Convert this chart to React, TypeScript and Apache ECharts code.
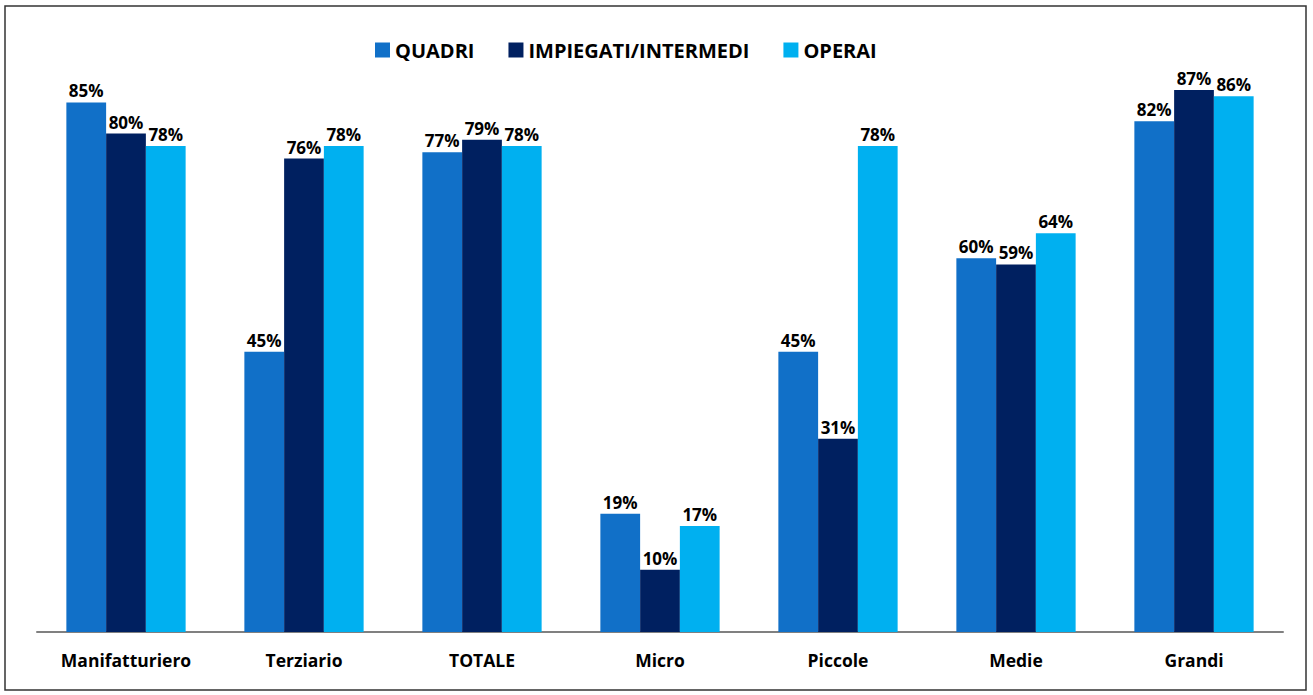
import React, { useEffect, useRef } from "react";
import * as echarts from "echarts";

const categories = ["Manifatturiero", "Terziario", "TOTALE", "Micro", "Piccole", "Medie", "Grandi"];
const seriesNames = ["QUADRI", "IMPIEGATI/INTERMEDI", "OPERAI"];
const quadri = [85, 45, 77, 19, 45, 60, 82];
const impiegati = [80, 76, 79, 10, 31, 59, 87];
const operai = [78, 78, 78, 17, 78, 64, 86];
const colors = ["#1170C8", "#002060", "#00B0F0"];

export default function App() {
  const ref = useRef<HTMLDivElement>(null);
  useEffect(() => {
    document.body.style.margin = "0";
    const chart = echarts.init(ref.current!, null, { renderer: "svg" });
    const font = "'Open Sans', 'Noto Sans', sans-serif";
    const mk = (name: string, data: number[], color: string) => ({
      name,
      type: "bar",
      data,
      barGap: "0%",
      barCategoryGap: "33%",
      itemStyle: { color },
      label: {
        show: true,
        position: "top",
        distance: 3,
        formatter: "{c}%",
        color: "#000",
        fontWeight: "bold",
        fontSize: 17,
        fontFamily: font,
      },
    });
    chart.setOption({
      animation: false,
      backgroundColor: "#fff",
      color: colors,
      legend: {
        top: 35,
        left: 370,
        itemWidth: 15,
        itemHeight: 15,
        itemGap: 34,
        icon: "rect",
        textStyle: { fontSize: 20, fontWeight: "bold", color: "#000", fontFamily: font },
        data: seriesNames,
      },
      grid: { left: 37, right: 30, top: 9, bottom: 63 },
      xAxis: {
        type: "category",
        data: categories,
        axisLine: { lineStyle: { color: "#808080", width: 2 } },
        axisTick: { show: false },
        axisLabel: { color: "#000", fontWeight: "bold", fontSize: 17.5, fontFamily: font, margin: 19 },
      },
      yAxis: {
        type: "value",
        min: 0,
        max: 100,
        show: false,
        splitLine: { show: false },
      },
      graphic: [
        {
          type: "rect",
          shape: { x: 5, y: 6, width: 1301, height: 684 },
          style: { fill: "none", stroke: "#333", lineWidth: 1.5 },
          silent: true,
        },
      ],
      series: [
        mk(seriesNames[0], quadri, colors[0]),
        mk(seriesNames[1], impiegati, colors[1]),
        mk(seriesNames[2], operai, colors[2]),
      ],
    });
    return () => chart.dispose();
  }, []);
  return <div ref={ref} style={{ width: 1313, height: 695 }} />;
}
